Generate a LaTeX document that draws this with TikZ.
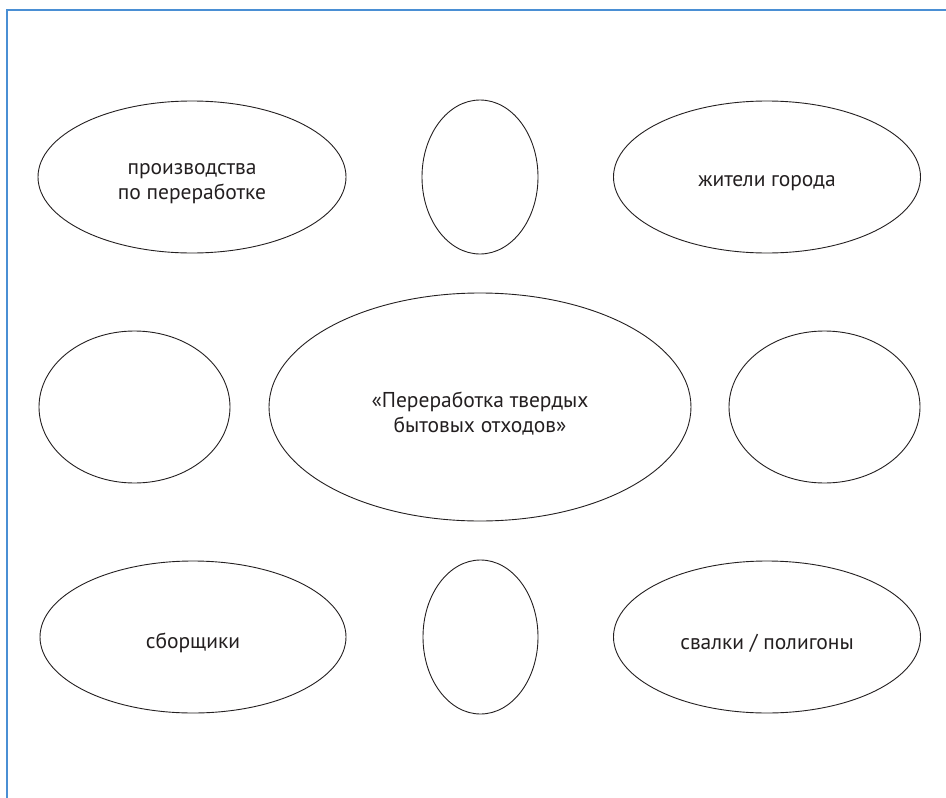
\documentclass[tikz,border=0pt]{standalone}
\usepackage{fontspec}
\setmainfont{PT Sans}
\usetikzlibrary{shapes.geometric}
\definecolor{framblue}{HTML}{4A8FD4}
\definecolor{inkdark}{HTML}{231F20}
\begin{document}
\begin{tikzpicture}[x=1pt,y=-1pt,
  oval/.style={ellipse, draw=inkdark, line width=0.9pt, inner sep=0pt},
  lbl/.style={text=inkdark, align=center, inner sep=0pt,
    font=\fontsize{21.5}{25}\selectfont},
  frameline/.style={draw=framblue, line width=1.4pt}]
  \useasboundingbox (0,0) rectangle (946,798);
  % page frame, open to the right and bottom
  \coordinate (fb) at (7,799);
  \coordinate (fc) at (7,10);
  \coordinate (fr) at (947,10);
  \draw[frameline] (fb) -- (fc) -- (fr);

  % top row
  \node[oval, minimum width=308, minimum height=152] (prod) at (192,177) {};
  \node[oval, minimum width=116, minimum height=154] (topmid) at (480,177) {};
  \node[oval, minimum width=307, minimum height=152] (zhit) at (767,177) {};

  % middle row
  \node[oval, minimum width=191, minimum height=152] (midl) at (134.5,407) {};
  \node[oval, minimum width=422, minimum height=228] (center) at (480,407) {};
  \node[oval, minimum width=191, minimum height=152] (midr) at (824.5,407) {};

  % bottom row
  \node[oval, minimum width=306, minimum height=152] (sbor) at (193,637) {};
  \node[oval, minimum width=115, minimum height=154] (botmid) at (480.5,637) {};
  \node[oval, minimum width=307, minimum height=152] (svalki) at (767,637) {};

  % captions, set slightly below each oval's centre
  \node[lbl] (prodtxt)   at ([yshift=-6.5pt]prod.center)   {производства\\по переработке};
  \node[lbl] (zhittxt)   at ([yshift=-6pt]zhit.center)     {жители города};
  \node[lbl] (centertxt) at ([yshift=-6.5pt]center.center) {«Переработка твердых\\бытовых отходов»};
  \node[lbl] (sbortxt)   at ([yshift=-6pt]sbor.center)     {сборщики};
  \node[lbl] (svalkitxt) at ([yshift=-6pt]svalki.center)   {свалки / полигоны};
\end{tikzpicture}
\end{document}
